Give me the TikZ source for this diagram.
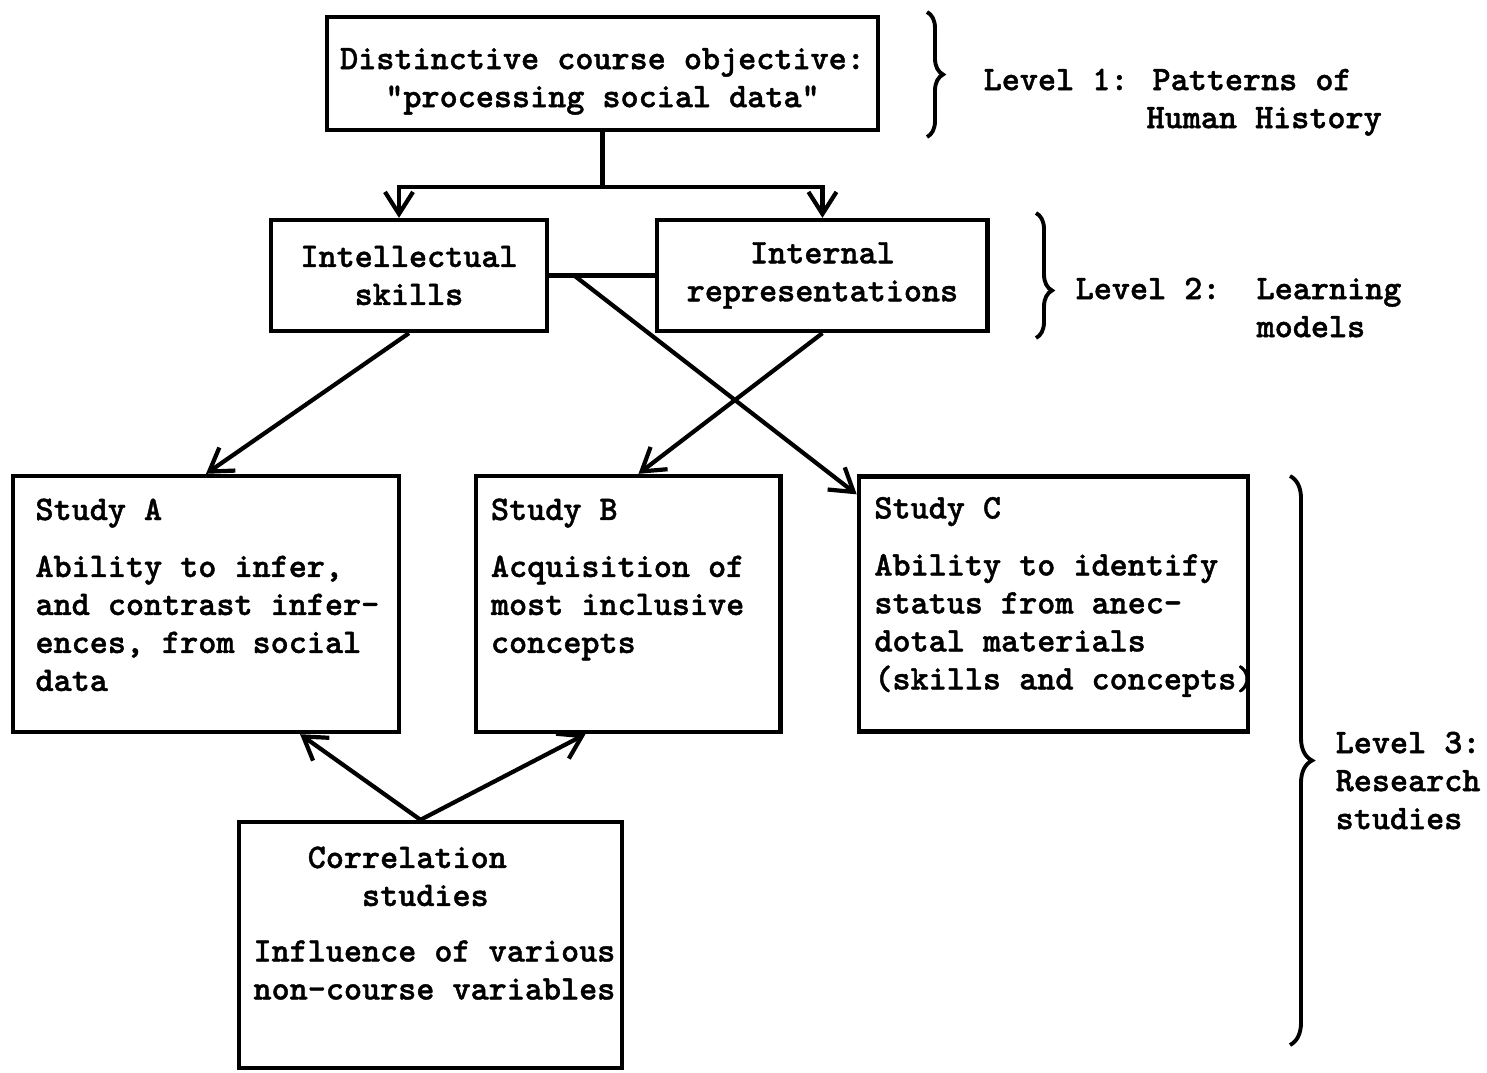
\documentclass[tikz,border=0pt]{standalone}
\usepackage{fontspec}
\usepackage{tikz}
\usetikzlibrary{arrows.meta, positioning, decorations.pathreplacing}
\newfontfamily\scanfamily{lmmonolt10-bold}[Extension=.otf, FakeBold=1.2]
\newcommand{\scanfont}{\scanfamily\fontsize{9.8}{10.8}\selectfont}
\tikzstyle{box} = [rectangle, draw=black, line width=1.2pt, align=center, font=\scanfont]
\tikzstyle{boxtext} = [inner sep=0pt, align=left, anchor=north west, font=\scanfont]
\tikzstyle{arrow} = [line width=1.2pt, -{Straight Barb[length=2.2mm,width=2.8mm]}]
\tikzstyle{link} = [line width=1.2pt]
\tikzstyle{level} = [decorate, decoration={brace, amplitude=0.16cm}, line width=1.1pt]

\begin{document}
\begin{tikzpicture}[x=0.01cm, y=-0.01cm]
\useasboundingbox (0,0) rectangle (1487,1072);

% course objective and learning models
\node[box, minimum width=5.51cm, minimum height=1.13cm] (obj) at (602.5,73.5) {\rule{0pt}{10.5pt}Distinctive course objective:\\"processing social data"};
\node[box, minimum width=2.76cm, minimum height=1.11cm] (skills) at (409,275.5) {Intellectual\\skills};
\node[box, minimum width=3.30cm, minimum height=1.11cm, right=1.06cm of skills] (intrep) {Internal\\representations};

% research studies
\node[box, minimum width=3.86cm, minimum height=2.56cm] (studyA) at (206,604) {};
\node[box, minimum width=3.04cm, minimum height=2.56cm, right=0.73cm of studyA] (studyB) {};
\node[box, minimum width=3.89cm, minimum height=2.55cm, right=0.74cm of studyB] (studyC) {};
\node[box, minimum width=3.83cm, minimum height=2.46cm] (corr) at (430.5,945) {};

\node[boxtext, below right=0.24cm and 0.24cm of studyA.north west] (textA) {Study A\\[5.4pt]Ability to infer,\\and contrast infer-\\ences, from social\\data};
\node[boxtext, below right=0.24cm and 0.16cm of studyB.north west] (textB) {Study B\\[5.4pt]Acquisition of\\most inclusive\\concepts};
\node[boxtext, below right=0.22cm and 0.17cm of studyC.north west] (textC) {Study C\\[5.4pt]Ability to identify\\status from anec-\\dotal materials\\(skills and concepts)};
\node[boxtext, below right=0.26cm and 0.16cm of corr.north west] (textcorr) {\hphantom{xxx}Correlation\\\hphantom{xxxxxx}studies\\[5pt]Influence of various\\non-course variables};

% connectors
\coordinate (fork) at ([yshift=-0.55cm]obj.south);
\draw[link] (obj.south) -- (fork);
\draw[arrow] (fork) -| ([xshift=-0.1cm]skills.north);
\draw[arrow] (fork) -| (intrep.north);
\draw[link] (skills.east) -- (intrep.west);
\draw[arrow] ([xshift=0.25cm]skills.east) -- ([yshift=-0.2cm]studyC.north west);
\draw[arrow] (skills.south) -- (studyA.north);
\draw[arrow] (intrep.south) -- ([xshift=0.1cm]studyB.north);
\draw[arrow] ([xshift=-0.1cm]corr.north) -- ([xshift=0.94cm]studyA.south);
\draw[arrow] ([xshift=-0.1cm]corr.north) -- ([xshift=-0.43cm]studyB.south);

% levels
\draw[level] (927,12) -- (927,137);
\draw[level, decoration={aspect=0.62}] (1036,213) -- (1036,338);
\draw[level, decoration={amplitude=0.22cm}] (1290,476) -- (1290,1045);
\node[boxtext] (lev1) at (983,68) {Level 1: Patterns of\\\hphantom{Level 1:x}Human History};
\node[boxtext] (lev2) at (1075,277) {Level 2:\ \ Learning\\\hphantom{Level 2:xx}models};
\node[boxtext] (lev3) at (1335,731) {Level 3:\\Research\\studies};
\end{tikzpicture}
\end{document}
